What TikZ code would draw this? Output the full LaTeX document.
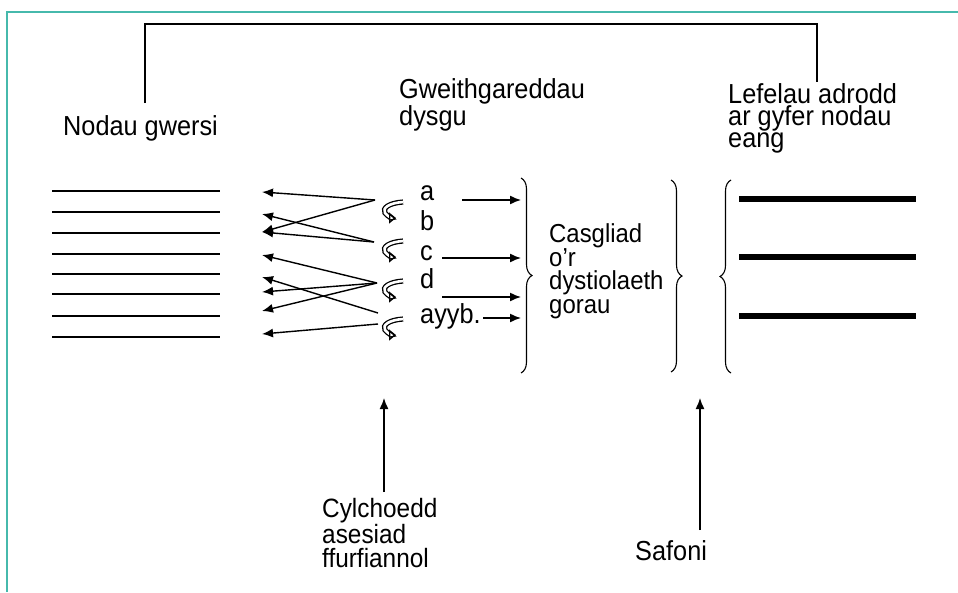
\documentclass[tikz,border=0pt]{standalone}
\usepackage{fontspec}
\setmainfont[FakeStretch=0.92]{Liberation Sans}
\usetikzlibrary{arrows.meta,decorations.pathreplacing}
\definecolor{rim}{RGB}{70,185,172}
\tikzset{
	txt/.style={inner sep=0pt, anchor=base west, align=left, font=\fontsize{27.5}{22}\selectfont},
	arr/.style={line width=1.4pt, -{Latex[length=11pt,width=9pt]}},
	cycl/.style={line width=1.3pt, double=white, double distance=2.6pt, -{Triangle[open,length=7pt,width=11pt]}},
	brc/.style={line width=1.1pt, decorate, decoration={brace,amplitude=11pt}}
}
\begin{document}
\begin{tikzpicture}[x=1pt,y=-1pt]
	\useasboundingbox (0,0) rectangle (958,592);
	\draw[rim, line width=1.5pt] (958,12) -- (7,12) -- (7,592);
	% headings and the top bracket (base = last line)
	\node[txt] (gwersi) at (63,135) {Nodau gwersi};
	\node[txt] (gweith) at (399,125) {Gweithgareddau\\dysgu};
	\node[txt] (lefel) at (728,147) {Lefelau adrodd\\ar gyfer nodau\\eang};
	\coordinate (t1) at (145,103); \coordinate (t2) at (817,82);
	\coordinate (top) at (480,24);
	\draw[line width=1.3pt] (t1) |- (top) -| (t2);
	% lesson aims
	\foreach \y in {191,212,233,254,274,294,316,337}
	{
		\draw[line width=1.3pt] (52,\y) -- (220,\y);
	}
	\foreach \n/\y in {1/192,2/214,3/232,4/255,5/277,6/292,7/311,8/334}
	{
		\coordinate (L\n) at (262,\y);
	}
	\coordinate (s1) at (375,200); \coordinate (s2) at (374,242);
	\coordinate (s3) at (377,283); \coordinate (s4) at (378,313);
	\coordinate (s5) at (378,324);
	\foreach \s/\t in {s1/L1,s1/L3,s2/L2,s2/L3,s3/L4,s3/L6,s3/L7,s4/L5,s5/L8}
	{
		\draw[arr] (\s) -- (\t);
	}
	\foreach \y in {211,250,290,328}
	{
		\draw[cycl, shift={(393,\y)}] (10,-9) .. controls (-4,-8) and (-11,-3) .. (-8,2) .. controls (-5,6) and (0,7) .. (3,7);
	}
	% activities
	\node[txt] (la) at (420,200) {a};
	\node[txt] (lb) at (420,230) {b};
	\node[txt] (lc) at (420,260) {c};
	\node[txt] (ld) at (420,288) {d};
	\node[txt] (le) at (420,323) {ayyb.};
	\coordinate (b1t) at (521,178); \coordinate (b1b) at (521,373);
	\foreach \i/\x/\y in {1/462/200,2/442/258,3/442/297,4/483/318}
	{
		\coordinate (p\i) at (\x,\y);
		\draw[arr] (p\i) -- (p\i -| b1t);
	}
	\draw[brc] (b1t) -- (b1b);
	\node[txt, font=\fontsize{26}{23.5}\selectfont] (casg) at (549,313) {Casgliad\\o’r\\dystiolaeth\\gorau};
	\coordinate (b2t) at (671,180); \coordinate (b2b) at (671,372);
	\draw[brc] (b2t) -- (b2b);
	\coordinate (b3t) at (731,180); \coordinate (b3b) at (731,373);
	\draw[brc] (b3b) -- (b3t);
	\foreach \y in {199,257,316}
	{
		\draw[line width=6pt] (739,\y) -- (916,\y);
	}
	% bottom labels
	\node[txt, font=\fontsize{26.5}{23.5}\selectfont] (cylch) at (322,567) {Cylchoedd\\asesiad\\ffurfiannol};
	\node[txt] (safoni) at (635,560) {Safoni};
	\coordinate (u1) at (384,492); \coordinate (u1t) at (384,398);
	\coordinate (u2) at (700,530); \coordinate (u2t) at (700,398);
	\draw[arr] (u1) -- (u1t);
	\draw[arr] (u2) -- (u2t);
\end{tikzpicture}
\end{document}
